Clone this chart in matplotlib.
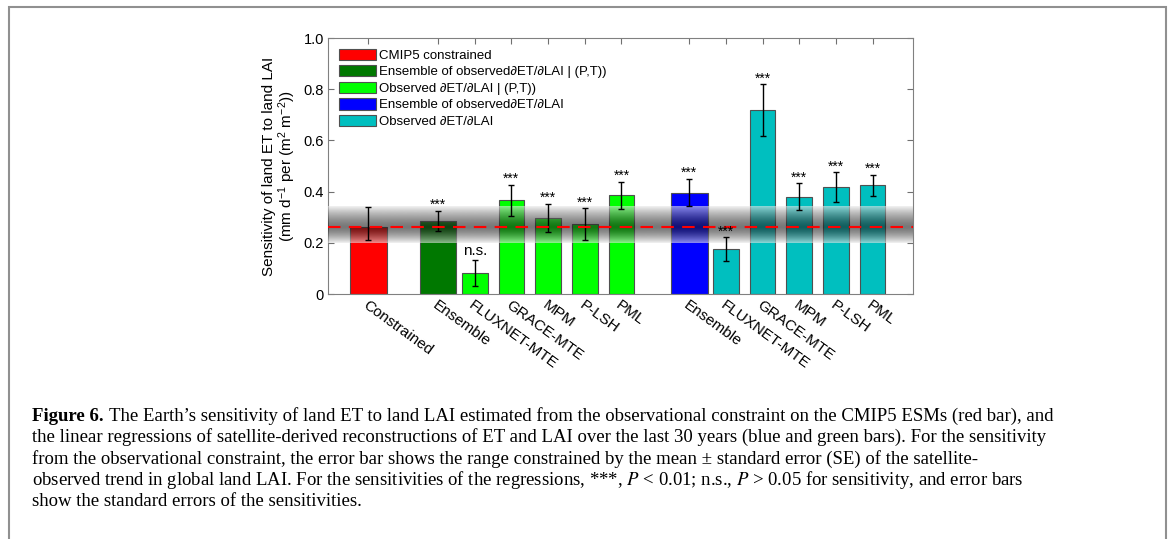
import numpy as np
import matplotlib.pyplot as plt
from matplotlib.patches import Patch, Rectangle

plt.rcParams['font.family'] = ['Liberation Sans', 'DejaVu Sans']
plt.rcParams['mathtext.fontset'] = 'custom'
plt.rcParams['mathtext.rm'] = 'Liberation Sans'
plt.rcParams['mathtext.it'] = 'Liberation Sans:italic'

# bar data
labels = ['Constrained', 'Ensemble', 'FLUXNET-MTE', 'GRACE-MTE', 'MPM', 'P-LSH', 'PML',
          'Ensemble', 'FLUXNET-MTE', 'GRACE-MTE', 'MPM', 'P-LSH', 'PML']
values = [0.26, 0.286, 0.081, 0.366, 0.298, 0.272, 0.385,
          0.396, 0.175, 0.719, 0.380, 0.417, 0.424]
err_low = [0.05, 0.04, 0.05, 0.06, 0.055, 0.063, 0.053,
           0.053, 0.048, 0.10, 0.053, 0.058, 0.042]
err_high = [0.08, 0.04, 0.05, 0.06, 0.055, 0.063, 0.053,
            0.055, 0.047, 0.10, 0.053, 0.058, 0.042]
signif = ['', '***', 'n.s.', '***', '***', '***', '***',
          '***', '***', '***', '***', '***', '***']
groups = [0, 1, 2, 2, 2, 2, 2, 3, 4, 4, 4, 4, 4]
group_names = ['CMIP5 constrained',
               'Ensemble of observed\u2202ET/\u2202LAI | (P,T))',
               'Observed \u2202ET/\u2202LAI | (P,T))',
               'Ensemble of observed\u2202ET/\u2202LAI',
               'Observed \u2202ET/\u2202LAI']
group_colors = ['#ff0000', '#007800', '#00ff00', '#0000ff', '#00bfbf']
constrained = 0.26
band_low, band_high = 0.198, 0.342

pos = [1.1, 3, 4, 5, 6, 7, 8, 9.85, 10.85, 11.85, 12.85, 13.85, 14.85]
widths = [1.0 if g in (0, 1, 3) else 0.7 for g in groups]
colors = [group_colors[g] for g in groups]

fig = plt.figure(figsize=(11.68, 5.39), dpi=100)
ax = fig.add_axes([328/1168, 1-294/539, (913-328)/1168, (294-38)/539])

ax.bar(pos, values, width=widths, color=colors, edgecolor='#505050', linewidth=0.8, zorder=2)

# shaded band around constrained value: light at the edges, dark in the middle
yy = np.linspace(band_low, band_high, 200)
t = np.where(yy > constrained, (yy-constrained)/(band_high-constrained),
             (constrained-yy)/(constrained-band_low))
g = 0.12 + 0.8*t**1.5
img = np.zeros((200, 1, 4))
img[:, 0, 0] = g
img[:, 0, 1] = g
img[:, 0, 2] = g
img[:, 0, 3] = 0.6
ax.imshow(img, extent=[0, 15.95, band_low, band_high], origin='lower',
          aspect='auto', zorder=3, interpolation='bilinear')

ax.errorbar(pos, values, yerr=[err_low, err_high], fmt='none', ecolor='black',
            elinewidth=1.0, capsize=2.5, capthick=1.0, zorder=4)
ax.axhline(constrained, color='#ff0000', ls=(0, (6, 4)), lw=1.5, zorder=5)

for x, v, e, s in zip(pos, values, err_high, signif):
    if s == '***':
        ax.text(x, v+e-0.005, s, ha='center', va='bottom', fontsize=10, zorder=6)
    elif s:
        ax.text(x, v+e+0.008, s, ha='center', va='bottom', fontsize=11, zorder=6)

ax.set_xlim(0, 15.95)
ax.set_ylim(0, 1.0)
ax.set_yticks([0, 0.2, 0.4, 0.6, 0.8, 1.0])
ax.set_yticklabels(['0', '0.2', '0.4', '0.6', '0.8', '1.0'], fontsize=10.5)
ax.set_xticks(pos)
ax.set_xticklabels(labels, rotation=-36, ha='left', rotation_mode='anchor', fontsize=11)
ax.tick_params(direction='in', length=4, width=0.8, color='#707070',
               top=True, right=True, pad=3)
for sp in ax.spines.values():
    sp.set_color('#808080')
    sp.set_linewidth(0.8)
ax.set_ylabel('Sensitivity of land ET to land LAI\n(mm d$^{-1}$ per (m$^{2}$ m$^{-2}$))',
              fontsize=11, linespacing=1.0, labelpad=4)

handles = [Patch(facecolor=c, edgecolor='#505050', linewidth=0.8) for c in group_colors]
ax.legend(handles, group_names, loc='upper left', frameon=False, fontsize=9.5,
          handlelength=2.8, handleheight=0.95, labelspacing=0.25, handletextpad=0.3,
          borderaxespad=0.5, borderpad=0.3)

# frame and caption
fig.patches.append(Rectangle((9/1168, -0.05), (1166-9)/1168, 1.05-7/539,
                             transform=fig.transFigure, fill=False,
                             edgecolor='#909090', linewidth=1.5))
cap_font = ['Liberation Serif', 'DejaVu Serif']
cap_size = 13.5
lines = [
    'The Earth\u2019s sensitivity of land ET to land LAI estimated from the observational constraint on the CMIP5 ESMs (red bar), and',
    'the linear regressions of satellite-derived reconstructions of ET and LAI over the last 30 years (blue and green bars). For the sensitivity',
    'from the observational constraint, the error bar shows the range constrained by the mean \u00b1 standard error (SE) of the satellite-',
    'observed trend in global land LAI. For the sensitivities of the regressions, ***, $P$ < 0.01; n.s., $P$ > 0.05 for sensitivity, and error bars',
    'show the standard errors of the sensitivities.',
]
baselines = [421, 442.3, 463.6, 485, 506]
x0 = 32/1168
fig.canvas.draw()
r = fig.canvas.get_renderer()
bold = fig.text(x0, 1-baselines[0]/539, 'Figure 6.', fontsize=cap_size, fontweight='bold',
                family=cap_font, va='baseline')
bw = bold.get_window_extent(r).width
fig.text(x0 + (bw+5)/1168, 1-baselines[0]/539, lines[0], fontsize=cap_size,
         family=cap_font, va='baseline')
for ln, b in zip(lines[1:], baselines[1:]):
    fig.text(x0, 1-b/539, ln, fontsize=cap_size, family=cap_font, va='baseline',
             math_fontfamily='stix')

fig.savefig('out.png', dpi=100)
